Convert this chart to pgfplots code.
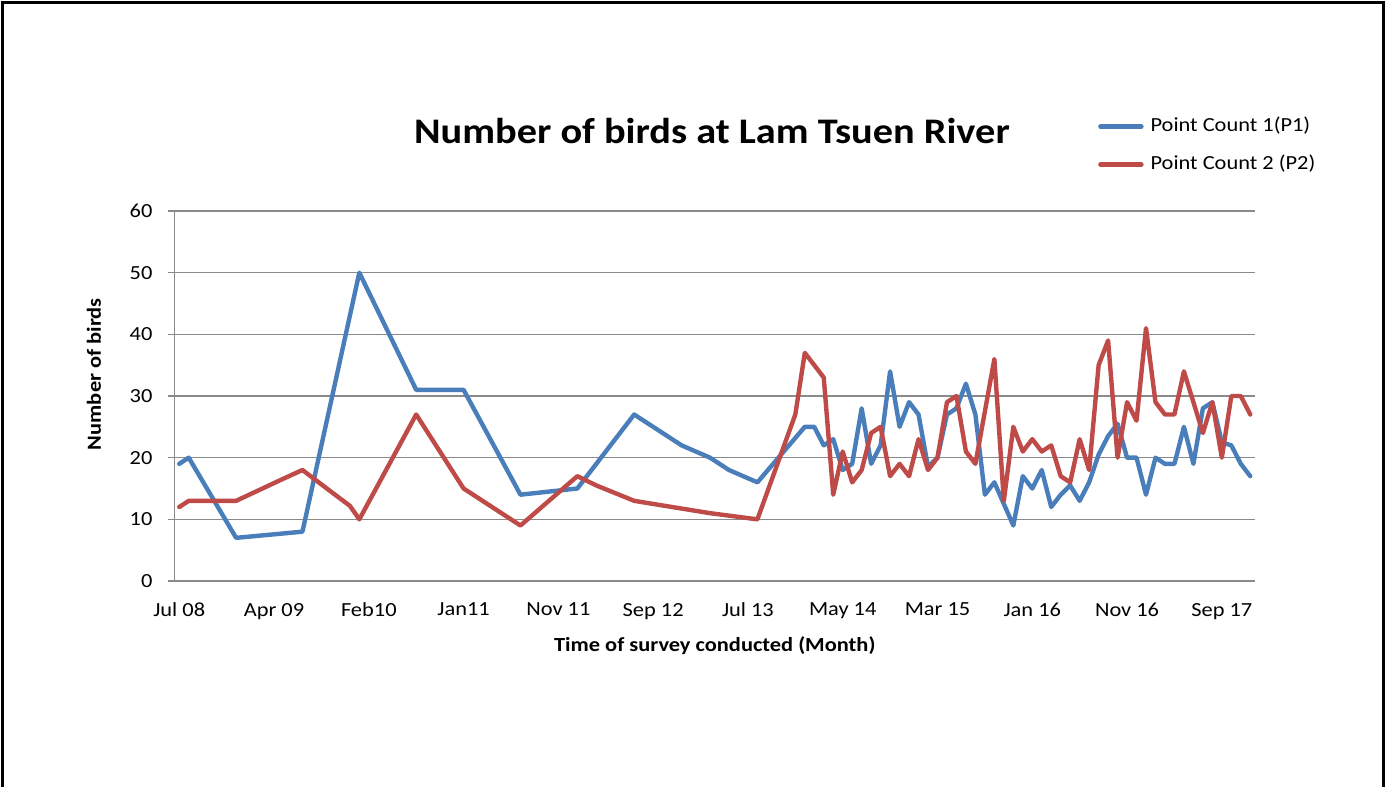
\documentclass[border=0pt]{standalone}
\usepackage{fontspec}
\setmainfont{Carlito}[FakeStretch=1.12]
\usepackage{pgfplots}
\usepackage{pgfplotstable}
\pgfplotsset{compat=1.18}

\definecolor{pcblue}{HTML}{4A7EBB}
\definecolor{pcred}{HTML}{BE4B48}
\definecolor{gridgray}{HTML}{8A8A8A}

% Survey index (one step per survey, labelled every tenth survey) and bird count
\pgfplotstableread{
idx count
0 19
1 20
6 7
13 8
19 50
25 31
30 31
36 14
39 14.5
42 15
48 27
49 26
51 24
53 22
56 20
58 18
61 16
66 25
67 25
68 22
69 23
70 18
71 19
72 28
73 19
74 22
75 34
76 25
77 29
78 27
79 18.5
80 20
81 27
82 28
83 32
84 27
85 14
86 16
88 9
89 17
90 15
91 18
92 12
93 14
94 15.5
95 13
96 16
97 20.5
98 23.5
99 25.5
100 20
101 20
102 14
103 20
104 19
105 19
106 25
107 19
108 28
109 29
110 22.5
111 22
112 19
113 17
}\pone

\pgfplotstableread{
idx count
0 12
1 13
6 13
11 16.6
13 18
16 14.5
18 12.2
19 10
25 27
30 15
36 9
42 17
44 15.5
48 13
52 12
56 11
61 10
65 27
66 37
68 33
69 14
70 21
71 16
72 18
73 24
74 25
75 17
76 19
77 17
78 23
79 18
80 20
81 29
82 30
83 21
84 19
86 36
87 13
88 25
89 21
90 23
91 21
92 22
93 17
94 16
95 23
96 18
97 35
98 39
99 20
100 29
101 26
102 41
103 29
104 27
105 27
106 34
107 29
108 24
109 29
110 20
111 30
112 30
113 27
}\ptwo

\begin{document}
\begin{tikzpicture}
\useasboundingbox (0,0) rectangle (696pt,-393.5pt);
\fill[white] (0,0) rectangle (696pt,-393.5pt);
% outer frame (open at the bottom)
\draw[black, line width=1.5pt] (1pt,-393.5pt) -- (1pt,-1pt) -- (691.6pt,-1pt) -- (691.6pt,-393.5pt);

\begin{axis}[
  at={(87.25pt,-290.5pt)}, anchor=south west,
  scale only axis, width=540.25pt, height=185pt,
  xmin=-0.5, xmax=113.5, ymin=0, ymax=60,
  xtick={0,10,...,110},
  xticklabels={Jul 08, Apr 09, Feb10, Jan11, Nov 11, Sep 12, Jul 13, May 14, Mar 15, Jan 16, Nov 16, Sep 17},
  ytick={0,10,...,60},
  axis x line*=bottom, axis y line*=left,
  axis line style={gridgray, line width=0.6pt},
  ymajorgrids, grid style={gridgray, line width=0.6pt},
  tick align=outside,
  xtick style={draw=none},
  ytick style={gridgray, line width=0.6pt},
  major tick length=3.5pt,
  tick label style={font=\fontsize{10}{12}\selectfont, text=black},
  /pgf/number format/assume math mode=true,
  xticklabel style={yshift=-4pt},
  yticklabel style={xshift=-4pt},
  title={Number of birds at Lam Tsuen River},
  title style={at={(axis description cs:0.4974,1.184)}, anchor=center, font=\bfseries\fontsize{18}{21}\selectfont},
  xlabel={Time of survey conducted (Month)},
  xlabel style={at={(axis description cs:0.5,-0.175)}, anchor=center, font=\bfseries\fontsize{10}{12}\selectfont},
  ylabel={Number of birds},
  ylabel style={at={(axis description cs:-0.0745,0.559)}, anchor=center, rotate=0, font=\bfseries\fontsize{10}{12}\selectfont},
  legend cell align=left,
  legend image code/.code={\draw[#1] (0pt,0pt) -- (20.5pt,0pt);},
  legend style={at={(axis description cs:0.8545,1.259)}, anchor=north west,
    draw=none, fill=none, inner sep=0pt, row sep=8pt, column sep=2.5pt,
    font=\fontsize{10}{12}\selectfont,
    nodes={inner sep=1pt, text height=7pt, text depth=2pt}},
  every axis plot/.append style={line width=2.2pt, line join=round, line cap=round},
]
\addplot[pcblue] table[x=idx, y=count] {\pone};
\addlegendentry{Point Count 1(P1)}
\addplot[pcred] table[x=idx, y=count] {\ptwo};
\addlegendentry{Point Count 2 (P2)}
\end{axis}
\end{tikzpicture}
\end{document}
